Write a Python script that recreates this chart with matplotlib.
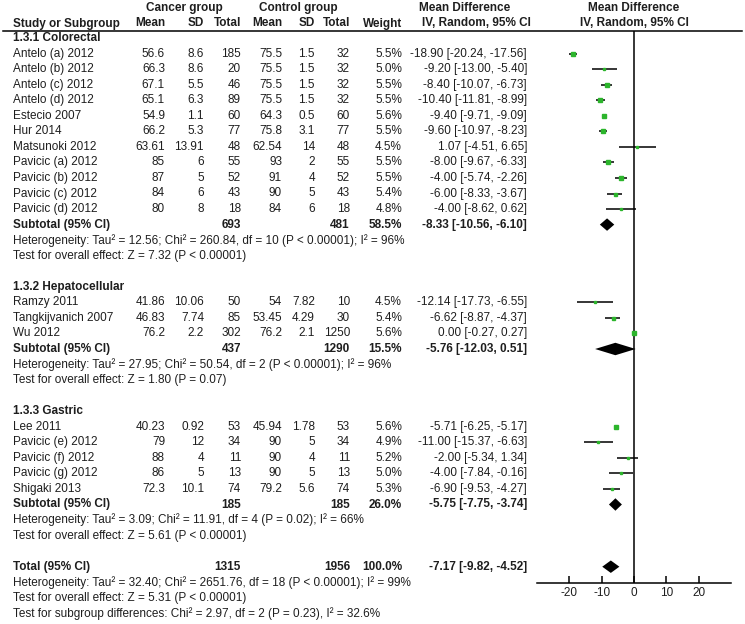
import matplotlib.pyplot as plt
import numpy as np

plt.rcParams['font.family'] = ['Liberation Sans', 'DejaVu Sans']
plt.rcParams['axes.unicode_minus'] = False

# study level data
studies = ['Antelo (a) 2012', 'Antelo (b) 2012', 'Antelo (c) 2012', 'Antelo (d) 2012',
           'Estecio 2007', 'Hur 2014', 'Matsunoki 2012', 'Pavicic (a) 2012',
           'Pavicic (b) 2012', 'Pavicic (c) 2012', 'Pavicic (d) 2012',
           'Ramzy 2011', 'Tangkijvanich 2007', 'Wu 2012',
           'Lee 2011', 'Pavicic (e) 2012', 'Pavicic (f) 2012', 'Pavicic (g) 2012',
           'Shigaki 2013']
group = [0]*11 + [1]*3 + [2]*5
ca_mean = ['56.6', '66.3', '67.1', '65.1', '54.9', '66.2', '63.61', '85', '87', '84', '80',
           '41.86', '46.83', '76.2', '40.23', '79', '88', '86', '72.3']
ca_sd = ['8.6', '8.6', '5.5', '6.3', '1.1', '5.3', '13.91', '6', '5', '6', '8',
         '10.06', '7.74', '2.2', '0.92', '12', '4', '5', '10.1']
ca_n = [185, 20, 46, 89, 60, 77, 48, 55, 52, 43, 18, 50, 85, 302, 53, 34, 11, 13, 74]
co_mean = ['75.5', '75.5', '75.5', '75.5', '64.3', '75.8', '62.54', '93', '91', '90', '84',
           '54', '53.45', '76.2', '45.94', '90', '90', '90', '79.2']
co_sd = ['1.5', '1.5', '1.5', '1.5', '0.5', '3.1', '14', '2', '4', '5', '6',
         '7.82', '4.29', '2.1', '1.78', '5', '4', '5', '5.6']
co_n = [32, 32, 32, 32, 60, 77, 48, 55, 52, 43, 18, 10, 30, 1250, 53, 34, 11, 13, 74]
weight = [5.5, 5.0, 5.5, 5.5, 5.6, 5.5, 4.5, 5.5, 5.5, 5.4, 4.8,
          4.5, 5.4, 5.6, 5.6, 4.9, 5.2, 5.0, 5.3]
md = [-18.90, -9.20, -8.40, -10.40, -9.40, -9.60, 1.07, -8.00, -4.00, -6.00, -4.00,
      -12.14, -6.62, 0.00, -5.71, -11.00, -2.00, -4.00, -6.90]
lo = [-20.24, -13.00, -10.07, -11.81, -9.71, -10.97, -4.51, -9.67, -5.74, -8.33, -8.62,
      -17.73, -8.87, -0.27, -6.25, -15.37, -5.34, -7.84, -9.53]
hi = [-17.56, -5.40, -6.73, -8.99, -9.09, -8.23, 6.65, -6.33, -2.26, -3.67, 0.62,
      -6.55, -4.37, 0.27, -5.17, -6.63, 1.34, -0.16, -4.27]

# subgroup and overall summaries
groups = ['1.3.1 Colorectal', '1.3.2 Hepatocellular', '1.3.3 Gastric']
sub_ca_n = [693, 437, 185]
sub_co_n = [481, 1290, 185]
sub_weight = [58.5, 15.5, 26.0]
sub_md = [-8.33, -5.76, -5.75]
sub_lo = [-10.56, -12.03, -7.75]
sub_hi = [-6.10, 0.51, -3.74]
sub_het = ['Heterogeneity: Tau\u00b2 = 12.56; Chi\u00b2 = 260.84, df = 10 (P < 0.00001); I\u00b2 = 96%',
           'Heterogeneity: Tau\u00b2 = 27.95; Chi\u00b2 = 50.54, df = 2 (P < 0.00001); I\u00b2 = 96%',
           'Heterogeneity: Tau\u00b2 = 3.09; Chi\u00b2 = 11.91, df = 4 (P = 0.02); I\u00b2 = 66%']
sub_test = ['Test for overall effect: Z = 7.32 (P < 0.00001)',
            'Test for overall effect: Z = 1.80 (P = 0.07)',
            'Test for overall effect: Z = 5.61 (P < 0.00001)']
tot_ca_n, tot_co_n, tot_weight = 1315, 1956, 100.0
tot_md, tot_lo, tot_hi = -7.17, -9.82, -4.52
tot_lines = ['Heterogeneity: Tau\u00b2 = 32.40; Chi\u00b2 = 2651.76, df = 18 (P < 0.00001); I\u00b2 = 99%',
             'Test for overall effect: Z = 5.31 (P < 0.00001)',
             'Test for subgroup differences: Chi\u00b2 = 2.97, df = 2 (P = 0.23), I\u00b2 = 32.6%']
xticks = [-20, -10, 0, 10, 20]

W, H = 745, 624
Y0, DY = 38.0, 15.55   # pixel y of row 0 and row pitch
FS = 8.5
TC = '#1e1e1e'
GREEN = '#2cb52c'

fig = plt.figure(figsize=(W/100, H/100), dpi=100)
tx = fig.add_axes([0, 0, 1, 1])
tx.set_xlim(0, W)
tx.set_ylim(H, 0)
tx.axis('off')

# forest axes: x -30..30, y in row units
ax_top, ax_bot = 31, 583
fx = fig.add_axes([537/W, 1 - ax_bot/H, 194/W, (ax_bot - ax_top)/H])
fx.set_xlim(-30, 30)
fx.set_ylim((ax_bot - Y0)/DY, (ax_top - Y0)/DY)
fx.patch.set_alpha(0)
for s in ['top', 'left', 'right']:
    fx.spines[s].set_visible(False)
fx.spines['bottom'].set_linewidth(1.1)
fx.set_yticks([])
fx.set_xticks(xticks)
fx.tick_params(axis='x', direction='in', length=5, width=1.1, pad=3, labelsize=FS, labelcolor=TC)
fx.axvline(0, color='black', lw=1.1)


def ry(r):
    return Y0 + DY*r


def txt(x, r, s, ha='right', bold=False):
    tx.text(x, ry(r), s, ha=ha, va='center', fontsize=FS, color=TC,
            fontweight='bold' if bold else 'normal')


cols = [165, 204, 241, 282, 315, 350, 402, 527]

# header
hy1, hy2 = (8 - Y0)/DY, (23.5 - Y0)/DY
txt(184, hy1, 'Cancer group', ha='center', bold=True)
txt(298, hy1, 'Control group', ha='center', bold=True)
txt(465, hy1, 'Mean Difference', ha='center', bold=True)
txt(634, hy1, 'Mean Difference', ha='center', bold=True)
txt(13, hy2, 'Study or Subgroup', ha='left', bold=True)
for x, s in zip(cols[:7], ['Mean', 'SD', 'Total', 'Mean', 'SD', 'Total', 'Weight']):
    txt(x, hy2, s, bold=True)
txt(476, hy2, 'IV, Random, 95% CI', ha='center', bold=True)
txt(634, hy2, 'IV, Random, 95% CI', ha='center', bold=True)
tx.plot([3, 742], [31, 31], color='black', lw=1.1)

row = 0
for g in range(3):
    txt(13, row, groups[g], ha='left', bold=True)
    row += 1
    for i in [k for k in range(len(studies)) if group[k] == g]:
        vals = [ca_mean[i], ca_sd[i], str(ca_n[i]), co_mean[i], co_sd[i], str(co_n[i]),
                '%.1f%%' % weight[i], '%.2f [%.2f, %.2f]' % (md[i], lo[i], hi[i])]
        txt(13, row, studies[i], ha='left')
        for x, s in zip(cols, vals):
            txt(x, row, s)
        fx.plot([lo[i], hi[i]], [row, row], color='black', lw=1.1, solid_capstyle='butt')
        fx.plot(md[i], row, marker='s', ms=weight[i]*0.4, color=GREEN, mec=GREEN, lw=0)
        row += 1
    txt(13, row, 'Subtotal (95% CI)', ha='left', bold=True)
    txt(cols[2], row, str(sub_ca_n[g]), bold=True)
    txt(cols[5], row, str(sub_co_n[g]), bold=True)
    txt(cols[6], row, '%.1f%%' % sub_weight[g], bold=True)
    txt(cols[7], row, '%.2f [%.2f, %.2f]' % (sub_md[g], sub_lo[g], sub_hi[g]), bold=True)
    h = 0.4
    fx.fill([sub_lo[g], sub_md[g], sub_hi[g], sub_md[g]], [row, row - h, row, row + h],
            color='black', lw=0)
    txt(13, row + 1, sub_het[g], ha='left')
    txt(13, row + 2, sub_test[g], ha='left')
    row += 4

txt(13, row, 'Total (95% CI)', ha='left', bold=True)
txt(cols[2], row, str(tot_ca_n), bold=True)
txt(cols[5], row, str(tot_co_n), bold=True)
txt(cols[6], row, '%.1f%%' % tot_weight, bold=True)
txt(cols[7], row, '%.2f [%.2f, %.2f]' % (tot_md, tot_lo, tot_hi), bold=True)
fx.fill([tot_lo, tot_md, tot_hi, tot_md], [row, row - 0.4, row, row + 0.4], color='black', lw=0)
for k, s in enumerate(tot_lines):
    txt(13, row + 1 + k, s, ha='left')

fig.savefig('out.png', dpi=100)
